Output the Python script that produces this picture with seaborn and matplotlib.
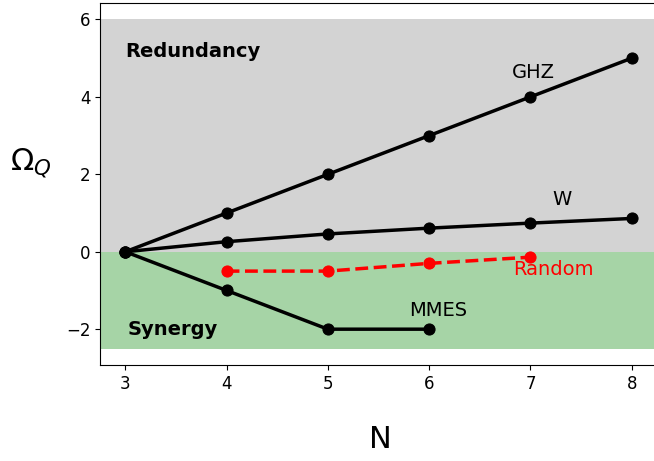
import matplotlib
matplotlib.use("Agg")
import matplotlib.pyplot as plt
import seaborn as sns
import pandas as pd

N_ghz = [3, 4, 5, 6, 7, 8]
ghz = [0, 1, 2, 3, 4, 5]
N_w = [3, 4, 5, 6, 7, 8]
w = [0, 0.26, 0.46, 0.61, 0.74, 0.86]
N_mmes = [3, 4, 5, 6]
mmes = [0, -1, -2, -2]
N_rand = [4, 5, 6, 7]
rand = [-0.5, -0.5, -0.3, -0.14]

fig = plt.figure(figsize=(6.54, 4.61), dpi=100)
ax = fig.add_axes([100/654, 1 - 365/461, 557/654, 362/461])

ax.axhspan(0, 6, color="lightgray", zorder=0, lw=0)
ax.axhspan(-2.5, 0, color="#a6d4a6", zorder=0, lw=0)

for xs, ys in [(N_ghz, ghz), (N_w, w), (N_mmes, mmes)]:
    sns.lineplot(x=xs, y=ys, ax=ax, color="black", marker="o", markersize=8,
                 markeredgecolor="black", linewidth=2.5, zorder=3)
sns.lineplot(x=N_rand, y=rand, ax=ax, color="red", marker="o", markersize=8,
             markeredgecolor="red", linewidth=2.5, linestyle="--", zorder=3)

ax.set_xlim(2.75, 8.25)
ax.set_ylim(-2.925, 6.425)
ax.set_xticks([3, 4, 5, 6, 7, 8])
ax.set_yticks([-2, 0, 2, 4, 6])
ax.tick_params(labelsize=12)
ax.spines["right"].set_visible(False)

ax.text(3.0, 5.18, "Redundancy", fontsize=14, fontweight="bold", va="center", ha="left")
ax.text(3.02, -2.0, "Synergy", fontsize=14, fontweight="bold", va="center", ha="left")
ax.text(7.03, 4.64, "GHZ", fontsize=14, ha="center", va="center")
ax.text(7.31, 1.36, "W", fontsize=14, ha="center", va="center")
ax.text(7.23, -0.46, "Random", fontsize=14, ha="center", va="center", color="red")
ax.text(6.09, -1.52, "MMES", fontsize=14, ha="center", va="center")

ax.set_xlabel("N", fontsize=22)
ax.xaxis.set_label_coords(0.503, -0.165)
ax.set_ylabel(r"$\Omega_Q$", fontsize=22, rotation=0)
ax.yaxis.set_label_coords(-0.125, 0.51)

fig.savefig("out.png", dpi=100)
